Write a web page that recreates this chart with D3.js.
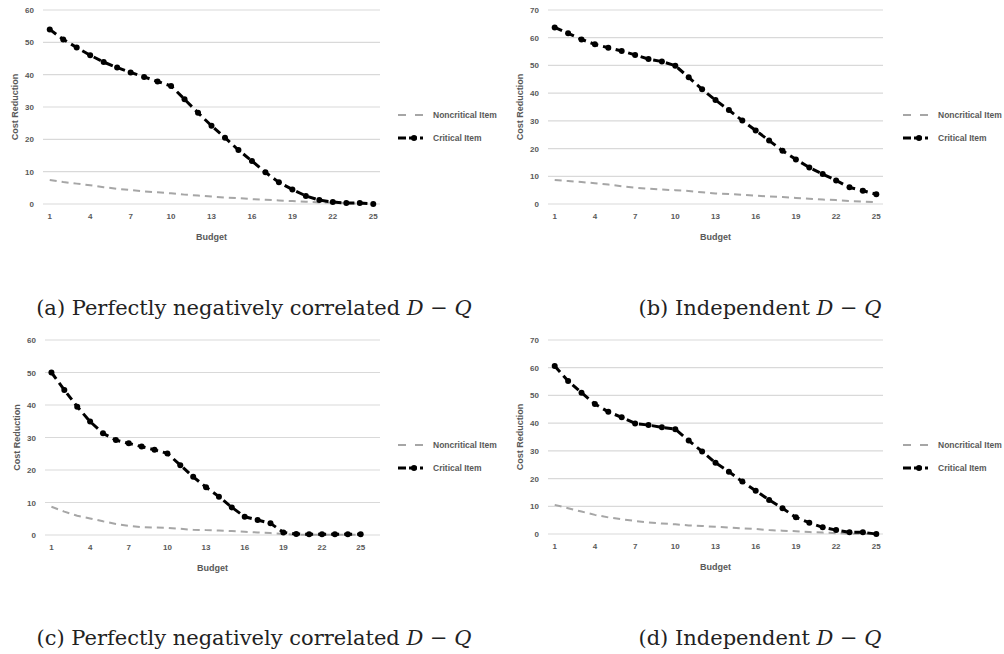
<!DOCTYPE html>
<html>
<head>
<meta charset="utf-8">
<style>
  body { margin: 0; background: #fff; }
  svg { display: block; }
  .tick text { font-family: "Liberation Sans", Arial, sans-serif; font-size: 8px; font-weight: bold; fill: #595959; }
  .lab { font-family: "Liberation Sans", Arial, sans-serif; font-size: 9px; font-weight: bold; fill: #595959; }
  .leg { font-family: "Liberation Sans", Arial, sans-serif; font-size: 8.5px; font-weight: bold; fill: #595959; }
  .cap { font-family: "DejaVu Serif", serif; font-size: 21px; fill: #222; }
</style>
</head>
<body>
<svg id="chart" width="1004" height="654"></svg>
<script src="https://cdn.jsdelivr.net/npm/d3@7"></script>
<script>
// budgets on the x axis
const budget = [1, 2, 3, 4, 5, 6, 7, 8, 9, 10, 11, 12, 13, 14, 15, 16, 17, 18, 19, 20, 21, 22, 23, 24, 25];
const budgetTicks = [1, 4, 7, 10, 13, 16, 19, 22, 25];

// (a) perfectly negatively correlated
const critA = [54.0, 50.9, 48.4, 46.0, 43.9, 42.2, 40.7, 39.3, 37.9, 36.5, 32.4, 28.2, 24.2, 20.5, 16.7, 13.3, 9.8, 6.7, 4.5, 2.5, 1.2, 0.6, 0.3, 0.3, 0];
const nonA  = [7.4, 6.8, 6.3, 5.8, 5.2, 4.7, 4.3, 3.9, 3.6, 3.3, 2.9, 2.6, 2.3, 2.0, 1.8, 1.5, 1.3, 1.1, 0.9, 0.7, 0.5, 0.4, 0.3, 0.1, 0];
// (b) independent
const critB = [63.7, 61.6, 59.4, 57.6, 56.4, 55.2, 53.8, 52.3, 51.4, 49.9, 45.7, 41.4, 37.5, 33.9, 30.1, 26.5, 22.9, 19.2, 16.1, 13.2, 10.8, 8.5, 6.0, 4.8, 3.5];
const nonB  = [8.7, 8.3, 7.9, 7.5, 7.0, 6.4, 5.9, 5.5, 5.2, 5.0, 4.7, 4.2, 3.8, 3.6, 3.3, 3.0, 2.7, 2.5, 2.2, 1.9, 1.6, 1.4, 1.1, 0.9, 0.7];
// (c) perfectly negatively correlated
const critC = [50.0, 44.6, 39.5, 34.9, 31.3, 29.2, 28.2, 27.2, 26.2, 25.1, 21.5, 17.9, 14.7, 11.8, 8.5, 5.6, 4.6, 3.6, 0.8, 0.3, 0.2, 0.2, 0.2, 0.2, 0.2];
const nonC  = [8.7, 7.2, 5.9, 5.1, 4.2, 3.4, 2.8, 2.4, 2.3, 2.2, 1.9, 1.6, 1.5, 1.4, 1.2, 1.0, 0.8, 0.6, 0.3, 0.1, 0.1, 0.1, 0.1, 0.1, 0.1];
// (d) independent
const critD = [60.6, 55.2, 51.0, 46.9, 44.1, 42.1, 39.9, 39.3, 38.5, 37.8, 33.7, 29.8, 25.7, 22.5, 18.9, 15.6, 12.3, 9.3, 6.0, 4.1, 2.4, 1.4, 0.6, 0.6, 0];
const nonD  = [10.5, 9.3, 8.1, 6.9, 6.0, 5.3, 4.7, 4.2, 3.8, 3.5, 3.1, 2.9, 2.6, 2.3, 2.0, 1.8, 1.4, 1.2, 1.0, 0.7, 0.5, 0.3, 0.1, 0.1, 0.1];

const ticks60 = [0, 10, 20, 30, 40, 50, 60];
const ticks70 = [0, 10, 20, 30, 40, 50, 60, 70];

const legendNames = ["Noncritical Item", "Critical Item"];
const captions = [
  ["(a) Perfectly negatively correlated ", "D", " \u2212 ", "Q"],
  ["(b) Independent ", "D", " \u2212 ", "Q"],
  ["(c) Perfectly negatively correlated ", "D", " \u2212 ", "Q"],
  ["(d) Independent ", "D", " \u2212 ", "Q"]
];

// panel boxes (plot area) and extra empty category slots
const panels = [
  { crit: critA, non: nonA, yt: ticks60, x0: 43,  x1: 380, top: 10,  bot: 204, extra: [],   legX: 398, cap: captions[0], capX: 254, capY: 315 },
  { crit: critB, non: nonB, yt: ticks70, x0: 548, x1: 883, top: 10,  bot: 204, extra: [],   legX: 903, cap: captions[1], capX: 760, capY: 315 },
  { crit: critC, non: nonC, yt: ticks60, x0: 45,  x1: 380, top: 340, bot: 535, extra: [26], legX: 398, cap: captions[2], capX: 254, capY: 645 },
  { crit: critD, non: nonD, yt: ticks70, x0: 548, x1: 883, top: 340, bot: 534, extra: [],   legX: 903, cap: captions[3], capX: 760, capY: 645 }
];

const svg = d3.select("#chart");

panels.forEach(p => {
  const g = svg.append("g");

  const x = d3.scaleBand().domain(budget.concat(p.extra)).range([p.x0, p.x1]);
  const cx = d => x(d) + x.bandwidth() / 2;
  const y = d3.scaleLinear().domain([0, d3.max(p.yt)]).range([p.bot, p.top]);

  // gridlines
  g.selectAll("line.grid").data(p.yt).join("line")
    .attr("x1", p.x0).attr("x2", p.x1)
    .attr("y1", d => y(d)).attr("y2", d => y(d))
    .attr("stroke", "#d9d9d9").attr("stroke-width", 1.2);

  // y axis labels
  const ya = g.append("g").attr("transform", `translate(${p.x0 - 9},0)`)
    .call(d3.axisLeft(y).tickValues(p.yt).tickSize(0).tickPadding(0));
  ya.select(".domain").remove();

  // x axis labels
  const xa = g.append("g").attr("transform", `translate(0,${p.bot + 9})`)
    .call(d3.axisBottom(x).tickValues(budgetTicks).tickSize(0).tickPadding(0));
  xa.select(".domain").remove();
  xa.selectAll("text").attr("dy", "0.75em");

  g.append("text").attr("class", "lab")
    .attr("x", (p.x0 + p.x1) / 2).attr("y", p.bot + 36)
    .attr("text-anchor", "middle").text("Budget");

  g.append("text").attr("class", "lab")
    .attr("transform", `translate(${p.x0 - 25},${(p.top + p.bot) / 2}) rotate(-90)`)
    .attr("text-anchor", "middle").text("Cost Reduction");

  const line = d3.line().x((d, i) => cx(budget[i])).y(d => y(d));

  // noncritical series
  g.append("path").datum(p.non)
    .attr("d", line)
    .attr("fill", "none").attr("stroke", "#a6a6a6")
    .attr("stroke-width", 2).attr("stroke-dasharray", "7,5");

  // critical series
  g.append("path").datum(p.crit)
    .attr("d", line)
    .attr("fill", "none").attr("stroke", "#000")
    .attr("stroke-width", 3).attr("stroke-dasharray", "8,5");

  g.selectAll("circle.pt").data(p.crit).join("circle")
    .attr("cx", (d, i) => cx(budget[i])).attr("cy", d => y(d))
    .attr("r", 3).attr("fill", "#000");

  // legend
  const ly = [p.top + 105, p.top + 128];
  g.append("line").attr("x1", p.legX).attr("x2", p.legX + 25)
    .attr("y1", ly[0]).attr("y2", ly[0])
    .attr("stroke", "#a6a6a6").attr("stroke-width", 2).attr("stroke-dasharray", "8,9");
  g.append("line").attr("x1", p.legX).attr("x2", p.legX + 25)
    .attr("y1", ly[1]).attr("y2", ly[1])
    .attr("stroke", "#000").attr("stroke-width", 3).attr("stroke-dasharray", "8,3");
  g.append("circle").attr("cx", p.legX + 16).attr("cy", ly[1]).attr("r", 3).attr("fill", "#000");
  legendNames.forEach((n, i) => {
    g.append("text").attr("class", "leg")
      .attr("x", p.legX + 35).attr("y", ly[i]).attr("dy", "0.35em").text(n);
  });

  // caption
  const t = svg.append("text").attr("class", "cap")
    .attr("x", p.capX).attr("y", p.capY).attr("text-anchor", "middle");
  p.cap.forEach((s, i) => {
    t.append("tspan").attr("font-style", (s === "D" || s === "Q") ? "italic" : "normal").text(s);
  });
});
</script>
</body>
</html>
